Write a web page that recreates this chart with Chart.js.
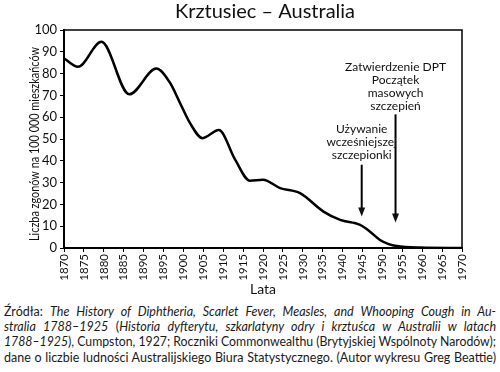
<!DOCTYPE html>
<html>
<head>
<meta charset="utf-8">
<script src="https://cdn.jsdelivr.net/npm/chart.js@4/dist/chart.umd.min.js"></script>
<style>
  html, body { margin: 0; padding: 0; background: #fff; }
  body { width: 500px; height: 372px; overflow: hidden; position: relative; font-family: Lato, "Open Sans", sans-serif; }
  #wrap { position: absolute; left: 0; top: 0; width: 500px; height: 300px; }
  #foot { position: absolute; left: 4px; top: 304px; width: 492px; color: #1a1a1a; font-size: 12.5px; line-height: 15.2px; }
  #foot .ln { white-space: nowrap; transform-origin: 0 0; display: block; height: 15.2px; }
</style>
</head>
<body>
<div id="wrap"><canvas id="c" width="500" height="300"></canvas></div>
<div id="foot">
  <span class="ln">Źródła: <i>The History of Diphtheria, Scarlet Fever, Measles, and Whooping Cough in Au-</i></span>
  <span class="ln"><i>stralia 1788–1925</i> (<i>Historia dyfterytu, szkarlatyny odry i krztuśca w Australii w latach</i></span>
  <span class="ln"><i>1788–1925</i>), Cumpston, 1927; Roczniki Commonwealthu (Brytyjskiej Wspólnoty Narodów);</span>
  <span class="ln">dane o liczbie ludności Australijskiego Biura Statystycznego. (Autor wykresu Greg Beattie)</span>
</div>
<script>
const chartTitle = "Krztusiec – Australia";
const yAxisTitle = "Liczba zgonów na 100 000 mieszkańców";
const xAxisTitle = "Lata";
const years  = [1870, 1873.5, 1879.4, 1886.4, 1893.2, 1896.6, 1899.1, 1901.6, 1904.8, 1908.9, 1913, 1916.7, 1920, 1924.3, 1929.3, 1935.2, 1939.4, 1944.4, 1946.9, 1949.4, 1951.6, 1953.6, 1959.5, 1970];
const deaths = [87,   83.1,   94.6,   70.5,   82.3,   75.9,   66.7,   57.5,   50.4,   54.1,   40.5, 30.9,   31.3, 27.5,   25.2,   16.7,   12.9,   10.6,   7.5,    3.7,    1.8,    0.9,    0.2,    0];
const xTicks = [1870,1875,1880,1885,1890,1895,1900,1905,1910,1915,1920,1925,1930,1935,1940,1945,1950,1955,1960,1965,1970];
const yTicks = [0,10,20,30,40,50,60,70,80,90,100];
const notes = [
  { lines: ["Zatwierdzenie DPT", "Początek", "masowych", "szczepień"], year: 1953.3, top: 61.3, tip: 11.7, textY: 67 },
  { lines: ["Używanie", "wcześniejszej", "szczepionki"], year: 1944.8, top: 38.2, tip: 14.4, textY: 129 }
];

const FONT = "Lato, 'Open Sans', sans-serif";

const framePlugin = {
  id: 'frame',
  afterDatasetsDraw(chart) {
    const { ctx, chartArea: a, scales } = chart;
    ctx.save();
    ctx.strokeStyle = '#000';
    ctx.lineWidth = 1.5;
    ctx.beginPath();
    ctx.moveTo(a.left, a.top); ctx.lineTo(a.right, a.top); ctx.lineTo(a.right, a.bottom);
    ctx.stroke();
    ctx.fillStyle = '#111';
    ctx.font = "20px " + FONT;
    ctx.textAlign = 'center';
    ctx.textBaseline = 'alphabetic';
    ctx.fillText(chartTitle, (a.left + a.right) / 2 + 2, 18);
    // y axis title (condensed)
    ctx.save();
    ctx.translate(35, 144);
    ctx.rotate(-Math.PI / 2);
    ctx.scale(0.87, 1);
    ctx.font = "12.5px " + FONT;
    ctx.textBaseline = 'middle';
    ctx.fillText(yAxisTitle, 0, 0);
    ctx.restore();
    const x = scales.x, y = scales.y;
    ctx.font = "12px " + FONT;
    ctx.lineWidth = 2;
    notes.forEach(n => {
      const px = x.getPixelForValue(n.year);
      const yTop = y.getPixelForValue(n.top);
      const yTip = y.getPixelForValue(n.tip);
      const lh = 13;
      ctx.textBaseline = 'middle';
      n.lines.forEach((t, i) => ctx.fillText(t, px, n.textY + i * lh));
      ctx.beginPath();
      ctx.moveTo(px, yTop); ctx.lineTo(px, yTip - 8);
      ctx.stroke();
      ctx.beginPath();
      ctx.moveTo(px - 3.5, yTip - 9); ctx.lineTo(px + 3.5, yTip - 9); ctx.lineTo(px, yTip);
      ctx.closePath(); ctx.fill();
    });
    ctx.restore();
  }
};

new Chart(document.getElementById('c'), {
  type: 'line',
  data: {
    datasets: [{
      data: years.map((yr, i) => ({ x: yr, y: deaths[i] })),
      borderColor: '#000',
      borderWidth: 2.5,
      pointRadius: 0,
      fill: false,
      cubicInterpolationMode: 'monotone'
    }]
  },
  options: {
    responsive: false,
    animation: false,
    layout: { padding: { top: 30, right: 38, left: 0, bottom: 0 } },
    plugins: { legend: { display: false }, tooltip: { enabled: false }, title: { display: false } },
    scales: {
      x: {
        type: 'linear', min: 1870, max: 1970,
        afterBuildTicks: s => { s.ticks = xTicks.map(v => ({ value: v })); },
        afterFit: s => { s.height = 52; },
        ticks: { minRotation: 90, maxRotation: 90, autoSkip: false, color: '#111', font: { family: FONT, size: 11.5 }, padding: 2, callback: v => String(v) },
        grid: { display: true, drawOnChartArea: false, tickLength: 4, color: '#000', lineWidth: 1 },
        border: { color: '#000', width: 2 },
        title: { display: true, text: xAxisTitle, color: '#111', font: { family: FONT, size: 14 }, padding: { top: 0, bottom: 2 } }
      },
      y: {
        min: 0, max: 100,
        afterBuildTicks: s => { s.ticks = yTicks.map(v => ({ value: v })); },
        afterFit: s => { s.width = 64; },
        ticks: { color: '#111', font: { family: FONT, size: 13 }, padding: 3 },
        grid: { display: true, drawOnChartArea: false, tickLength: 4, color: '#000', lineWidth: 1 },
        border: { color: '#000', width: 2 },
        title: { display: false }
      }
    }
  },
  plugins: [framePlugin]
});

const W = 492;
document.querySelectorAll('#foot .ln').forEach(el => {
  el.style.display = 'inline-block';
  const w = el.getBoundingClientRect().width;
  const spaces = (el.textContent.match(/ /g) || []).length;
  if (w > W) {
    el.style.transform = 'scaleX(' + (W / w) + ')';
  } else if (spaces) {
    el.style.wordSpacing = ((W - w) / spaces) + 'px';
  }
  el.style.display = 'block';
});
</script>
</body>
</html>
